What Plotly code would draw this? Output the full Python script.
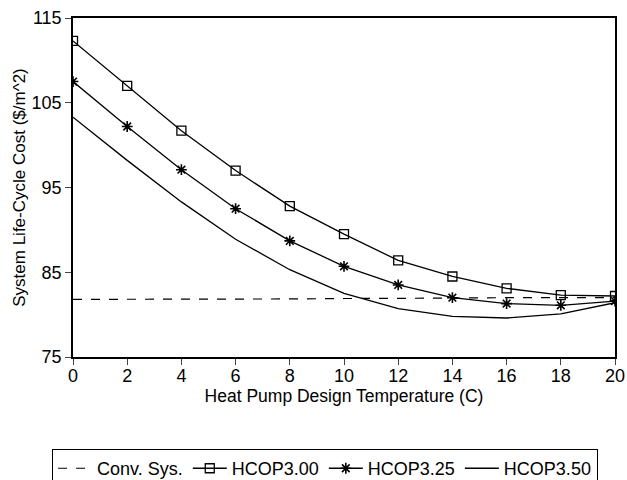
import plotly.graph_objects as go

temps = [0, 2, 4, 6, 8, 10, 12, 14, 16, 18, 20]
conv_sys = [81.8, 81.8, 81.8, 81.8, 81.85, 81.9, 81.9, 81.95, 82.0, 82.0, 82.0]
hcop300 = [112.3, 107.0, 101.7, 97.0, 92.8, 89.5, 86.4, 84.5, 83.1, 82.3, 82.2]
hcop325 = [107.5, 102.2, 97.1, 92.5, 88.7, 85.7, 83.5, 82.0, 81.3, 81.1, 81.6]
hcop350 = [103.3, 98.2, 93.3, 88.9, 85.3, 82.5, 80.7, 79.8, 79.6, 80.1, 81.4]

x_ticks = [0, 2, 4, 6, 8, 10, 12, 14, 16, 18, 20]
y_ticks = [75, 85, 95, 105, 115]

fig = go.Figure()
fig.add_trace(go.Scatter(x=temps, y=conv_sys, mode="lines", name="Conv. Sys.",
                         line=dict(color="black", width=1.2, dash="dash")))
fig.add_trace(go.Scatter(x=temps, y=hcop300, mode="lines+markers", name="HCOP3.00",
                         line=dict(color="black", width=1.3),
                         marker=dict(symbol="square-open", size=9, color="black", line=dict(width=1.3))))
fig.add_trace(go.Scatter(x=temps, y=hcop325, mode="lines+markers", name="HCOP3.25",
                         line=dict(color="black", width=1.3),
                         marker=dict(symbol="asterisk-open", size=9, color="black", line=dict(width=1.6))))
fig.add_trace(go.Scatter(x=temps, y=hcop350, mode="lines", name="HCOP3.50",
                         line=dict(color="black", width=1.3)))

fig.update_layout(
    width=627, height=480,
    paper_bgcolor="white", plot_bgcolor="white",
    margin=dict(l=73, r=12, t=18, b=123, autoexpand=False),
    font=dict(family="Liberation Sans, Arial, sans-serif", color="black", size=17),
    showlegend=True,
    legend=dict(orientation="h", x=-0.039, xanchor="left", y=-0.271, yanchor="top",
                bordercolor="black", borderwidth=1.2, bgcolor="white",
                font=dict(size=18), itemwidth=34, tracegroupgap=0),
)
fig.update_xaxes(range=[0, 20], tickvals=x_ticks, ticks="outside", ticklen=6, tickwidth=1.3,
                 showline=True, linecolor="black", linewidth=1.5, mirror=True, showgrid=False,
                 zeroline=False, tickfont=dict(size=18), ticklabelstandoff=-4,
                 title=dict(text="Heat Pump Design Temperature (C)", font=dict(size=17.5), standoff=3))
fig.update_yaxes(range=[75, 115], tickvals=y_ticks, ticks="outside", ticklen=6, tickwidth=1.3,
                 showline=True, linecolor="black", linewidth=1.5, mirror=True, showgrid=False,
                 zeroline=False, tickfont=dict(size=18),
                 title=dict(text="System Life-Cycle Cost ($/m^2)", font=dict(size=17), standoff=2))

fig.write_html("out.html", config={"displayModeBar": False},
               post_script="document.body.style.margin='0';document.body.style.overflow='hidden';")
